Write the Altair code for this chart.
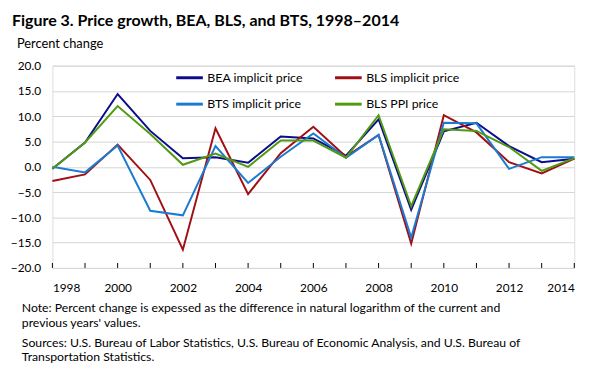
import altair as alt
import pandas as pd

years = list(range(1998, 2015))
bea = [-0.4, 4.8, 14.4, 7.1, 1.7, 1.9, 0.8, 6.0, 5.6, 2.2, 9.4, -8.5, 7.0, 8.7, 4.1, 0.9, 1.6]
bls_implicit = [-2.8, -1.5, 4.4, -2.6, -16.4, 7.6, -5.4, 2.7, 7.9, 2.0, 6.3, -15.2, 10.2, 6.8, 0.9, -1.3, 1.6]
bts = [0.0, -1.1, 4.2, -8.7, -9.6, 4.1, -3.2, 2.0, 6.6, 1.8, 6.3, -14.0, 8.7, 8.6, -0.4, 1.9, 1.9]
bls_ppi = [-0.4, 4.8, 12.0, 6.5, 0.4, 2.6, 0.0, 5.2, 5.2, 1.8, 10.2, -7.8, 7.4, 7.1, 3.9, -0.8, 1.7]

series_names = ["BEA implicit price", "BLS implicit price", "BTS implicit price", "BLS PPI price"]
series_colors = ["#0c0c8c", "#a00f14", "#1b7bd3", "#4f9a12"]
# legend is laid out column by column: BEA, BTS in column 1; BLS implicit, BLS PPI in column 2
legend_order = ["BEA implicit price", "BTS implicit price", "BLS implicit price", "BLS PPI price"]
y_ticks = [-20, -15, -10, -5, 0, 5, 10, 15, 20]
x_labels = list(range(1998, 2015, 2))

title_text = "Figure 3. Price growth, BEA, BLS, and BTS, 1998\u20132014"
y_title_text = "Percent change"
notes = [
    "Note: Percent change is expessed as the difference in natural logarithm of the current and",
    "previous years' values.",
    "Sources: U.S. Bureau of Labor Statistics, U.S. Bureau of Economic Analysis, and U.S. Bureau of",
    "Transportation Statistics.",
]
note_baselines = [250, 264.5, 285, 299.5]

FONT = "Lato"

rows = []
for i, (name, vals) in enumerate(zip(series_names, [bea, bls_implicit, bts, bls_ppi])):
    for yr, v in zip(years, vals):
        rows.append({"year": yr, "value": v, "series": name, "series_order": i})
df = pd.DataFrame(rows)

color_map = dict(zip(series_names, series_colors))

W, H = 529, 205

x_scale = alt.Scale(domain=[1998, 2014], nice=False, zero=False)
y_scale = alt.Scale(domain=[-20, 20], nice=False)

lines = alt.Chart(df).mark_line(strokeWidth=2).encode(
    x=alt.X("year:Q", scale=x_scale,
            axis=alt.Axis(values=x_labels, format="d", title=None, grid=False,
                          ticks=False, domain=False, labelFontSize=12, labelFont=FONT,
                          labelColor="black", labelPadding=15)),
    y=alt.Y("value:Q", scale=y_scale,
            axis=alt.Axis(values=y_ticks, format=".1f", title=None, grid=True,
                          gridColor="#d4d4d4", gridWidth=1, ticks=False, domain=False,
                          labelFontSize=12, labelFont=FONT, labelColor="black",
                          labelPadding=12)),
    color=alt.Color("series:N",
                    scale=alt.Scale(domain=legend_order,
                                    range=[color_map[n] for n in legend_order]),
                    legend=alt.Legend(orient="none", legendX=124, legendY=-3, columns=2,
                                      title=None, symbolType="stroke", symbolSize=729,
                                      symbolStrokeWidth=3, labelFontSize=12.5,
                                      labelFont=FONT, labelColor="black",
                                      columnPadding=26, rowPadding=5, labelOffset=3,
                                      padding=0)),
    order=alt.Order("series_order:Q"),
)

tick_df = pd.DataFrame({"year": years})
ticks = alt.Chart(tick_df).mark_rule(color="black", strokeWidth=1).encode(
    x=alt.X("year:Q", scale=x_scale),
    y=alt.value(H),
    y2=alt.value(H - 5),
)

title = alt.Chart(pd.DataFrame({"t": [title_text]})).mark_text(
    align="left", baseline="alphabetic", font=FONT, fontSize=16.2, fontWeight="bold", color="black"
).encode(x=alt.value(-41), y=alt.value(-40), text="t:N")

ytitle = alt.Chart(pd.DataFrame({"t": [y_title_text]})).mark_text(
    align="left", baseline="alphabetic", font=FONT, fontSize=13, color="black"
).encode(x=alt.value(-36), y=alt.value(-17.5), text="t:N")

note_layers = []
for txt, yb in zip(notes, note_baselines):
    note_layers.append(
        alt.Chart(pd.DataFrame({"t": [txt]})).mark_text(
            align="left", baseline="alphabetic", font=FONT, fontSize=12.4, color="black"
        ).encode(x=alt.value(-31), y=alt.value(yb), text="t:N")
    )

chart = alt.layer(lines, ticks, title, ytitle, *note_layers).properties(
    width=W, height=H,
    autosize=alt.AutoSizeParams(type="none"),
    padding={"left": 45, "top": 56, "right": 22, "bottom": 100},
).configure_view(stroke="black", strokeWidth=1.3).configure(background="white")

chart.save("out.html", embed_options={"renderer": "svg", "actions": False})
